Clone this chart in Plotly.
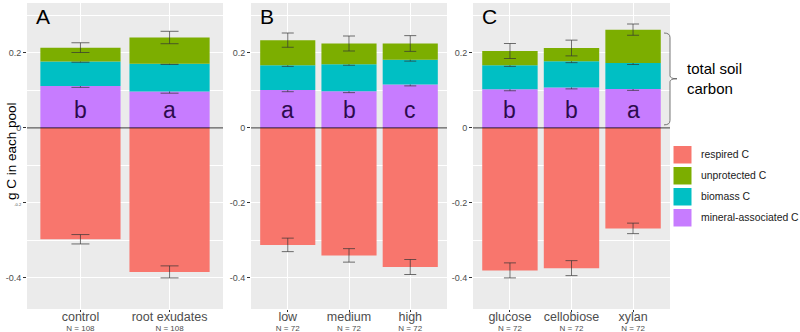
import plotly.graph_objects as go

# ---------------- data ----------------
panel_labels = ["A", "B", "C"]

categories_A = ["control", "root exudates"]
n_A = [108, 108]
mineral_A = [0.112, 0.097]
biomass_A = [0.065, 0.074]
unprotected_A = [0.037, 0.070]
respired_A = [-0.297, -0.384]
mineral_se_A = [0.004, 0.0045]
biomass_se_A = [0.002, 0.002]
unprotected_se_A = [0.013, 0.0165]
respired_se_A = [0.0125, 0.016]
letters_A = ["b", "a"]

categories_B = ["low", "medium", "high"]
n_B = [72, 72, 72]
mineral_B = [0.101, 0.098, 0.116]
biomass_B = [0.066, 0.072, 0.066]
unprotected_B = [0.067, 0.055, 0.043]
respired_B = [-0.312, -0.340, -0.371]
mineral_se_B = [0.0045, 0.004, 0.004]
biomass_se_B = [0.003, 0.003, 0.004]
unprotected_se_B = [0.019, 0.020, 0.021]
respired_se_B = [0.018, 0.018, 0.020]
letters_B = ["a", "b", "c"]

categories_C = ["glucose", "cellobiose", "xylan"]
n_C = [72, 72, 72]
mineral_C = [0.103, 0.108, 0.104]
biomass_C = [0.064, 0.070, 0.069]
unprotected_C = [0.038, 0.035, 0.089]
respired_C = [-0.380, -0.374, -0.268]
mineral_se_C = [0.004, 0.004, 0.004]
biomass_se_C = [0.003, 0.004, 0.004]
unprotected_se_C = [0.020, 0.021, 0.015]
respired_se_C = [0.020, 0.020, 0.014]
letters_C = ["b", "b", "a"]

pool_names = ["mineral-associated C", "biomass C", "unprotected C", "respired C"]
pool_colors = ["#C77CFF", "#00BFC4", "#7CAE00", "#F8766D"]
legend_order = ["respired C", "unprotected C", "biomass C", "mineral-associated C"]

y_tickvals = [-0.4, -0.2, 0, 0.2]
y_ticktext = ["-0.4", "-0.2", "0", "0.2"]

# ---------------- layout helpers ----------------
W, H = 800, 332
panel_px = [(27, 223), (251, 447), (473, 670)]
top_px, bot_px = 3, 309
y_range = [-0.483, 0.333]
err_width = [9, 6, 6]
FONT = "Liberation Sans, Arial, sans-serif"

panels = [
    (categories_A, n_A, [mineral_A, biomass_A, unprotected_A, respired_A],
     [mineral_se_A, biomass_se_A, unprotected_se_A, respired_se_A], letters_A),
    (categories_B, n_B, [mineral_B, biomass_B, unprotected_B, respired_B],
     [mineral_se_B, biomass_se_B, unprotected_se_B, respired_se_B], letters_B),
    (categories_C, n_C, [mineral_C, biomass_C, unprotected_C, respired_C],
     [mineral_se_C, biomass_se_C, unprotected_se_C, respired_se_C], letters_C),
]

fig = go.Figure()
annotations = []
shapes = []

for i, (cats, ns, vals, ses, letters) in enumerate(panels):
    k = "" if i == 0 else str(i + 1)
    for name, color, v, se in zip(pool_names, pool_colors, vals, ses):
        fig.add_trace(go.Bar(
            x=cats, y=v, name=name, width=0.9,
            marker=dict(color=color, line=dict(width=0)),
            error_y=dict(type="data", array=se, color="#333333",
                         thickness=0.7, width=err_width[i]),
            xaxis="x" + k, yaxis="y" + k, showlegend=False,
        ))
    l, r = panel_px[i]
    ticktext = [f"<span style='font-size:12.5px'>{c}</span><br>N = {n}"
                for c, n in zip(cats, ns)]
    fig.layout["xaxis" + k] = dict(
        domain=[l / W, r / W], anchor="y" + k, type="category",
        range=[-0.6, len(cats) - 0.4], automargin=False,
        tickmode="array", tickvals=cats, ticktext=ticktext,
        tickfont=dict(size=8, color="#4d4d4d", family=FONT),
        showgrid=True, gridcolor="white", gridwidth=1,
        ticks="outside", ticklen=2, tickcolor="#333333", tickwidth=0.6,
        ticklabelstandoff=-1,
        zeroline=False, showline=False, fixedrange=True,
    )
    yt = list(y_ticktext)
    if i == 0:
        yt[1] = "<span style='font-size:4px'>-0.2</span>"
    fig.layout["yaxis" + k] = dict(
        domain=[(H - bot_px) / H, (H - top_px) / H], anchor="x" + k,
        range=y_range, automargin=False,
        tickmode="array", tickvals=y_tickvals, ticktext=yt,
        tickfont=dict(size=9, color="#4d4d4d", family=FONT),
        showgrid=True, gridcolor="white", gridwidth=1,
        minor=dict(tickvals=[-0.3, -0.1, 0.1, 0.3], showgrid=True,
                   gridcolor="white", gridwidth=0.5, ticks=""),
        ticks="outside", ticklen=3, tickcolor="#333333", tickwidth=0.6,
        zeroline=False, showline=False, fixedrange=True,
    )
    # zero line
    shapes.append(dict(type="line", xref=f"x{k} domain", yref="y" + k,
                       x0=0, x1=1, y0=0, y1=0, layer="above",
                       line=dict(color="black", width=0.8)))
    # panel letter
    annotations.append(dict(text=panel_labels[i], xref=f"x{k} domain",
                            yref=f"y{k} domain", x=0.035, y=1.0,
                            xanchor="left", yanchor="top", showarrow=False,
                            font=dict(size=21, color="black", family=FONT)))
    # significance letters
    for c, let in zip(cats, letters):
        annotations.append(dict(text=let, x=c, y=0.048, xref="x" + k,
                                yref="y" + k, showarrow=False,
                                xanchor="center", yanchor="middle",
                                font=dict(size=23, color="#2d0b4e", family=FONT)))

# y axis title
annotations.append(dict(text="g C in each pool", x=11 / W, y=(H - 151) / H,
                        xref="paper", yref="paper", textangle=-90,
                        showarrow=False, xanchor="center", yanchor="middle",
                        font=dict(size=13.5, color="black", family=FONT)))

# brace for total soil carbon
bx0, bx1, bx2 = 664 / W, 670 / W, 677 / W
yt_, ym_, yb_ = 0.253, 0.131, 0.008
path = (f"M {bx0},{yt_} Q {bx1},{yt_} {bx1},{yt_-0.012} "
        f"L {bx1},{ym_+0.008} Q {bx1},{ym_} {bx2},{ym_} "
        f"Q {bx1},{ym_} {bx1},{ym_-0.008} "
        f"L {bx1},{yb_+0.012} Q {bx1},{yb_} {bx0},{yb_}")
shapes.append(dict(type="path", path=path, xref="paper", yref="y3",
                   line=dict(color="#555555", width=0.8)))
annotations.append(dict(text="total soil<br>carbon", x=685 / W, y=ym_,
                        xref="paper", yref="y3", xanchor="left",
                        yanchor="middle", align="left", showarrow=False,
                        font=dict(size=15, color="black", family=FONT)))

# manual legend
color_of = dict(zip(pool_names, pool_colors))
for j, name in enumerate(legend_order):
    top = 146 + 21 * j
    shapes.append(dict(type="rect", xref="paper", yref="paper",
                       x0=673.5 / W, x1=691.5 / W,
                       y0=(H - top) / H, y1=(H - top - 17.5) / H,
                       fillcolor=color_of[name], line=dict(width=0)))
    annotations.append(dict(text=name, x=699 / W, y=(H - top - 8.75) / H,
                            xref="paper", yref="paper", xanchor="left",
                            yanchor="middle", showarrow=False,
                            font=dict(size=10.4, color="#1a1a1a", family=FONT)))

fig.update_layout(
    width=W, height=H, barmode="relative",
    margin=dict(l=0, r=0, t=0, b=0, autoexpand=False),
    plot_bgcolor="#EBEBEB", paper_bgcolor="white",
    font=dict(family=FONT),
    showlegend=False, annotations=annotations, shapes=shapes,
)

fig.write_html(
    "out.html",
    config={"displayModeBar": False},
    post_script="document.body.style.margin='0px';"
                "document.body.style.overflow='hidden';",
)
